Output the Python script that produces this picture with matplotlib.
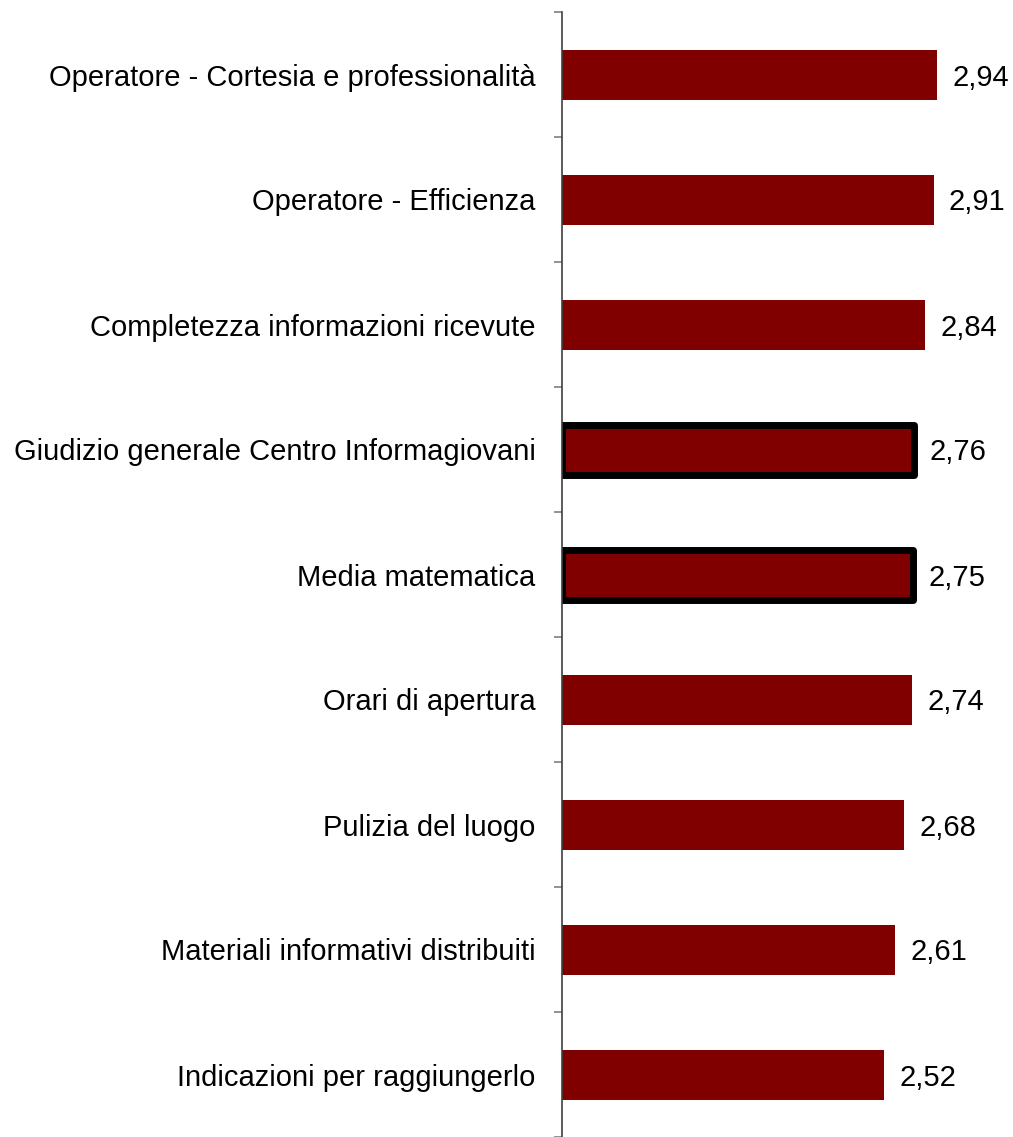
import matplotlib.pyplot as plt

plt.rcParams['font.family'] = ['Liberation Sans', 'DejaVu Sans']

categories = [
    'Operatore - Cortesia e professionalità',
    'Operatore - Efficienza',
    'Completezza informazioni ricevute',
    'Giudizio generale Centro Informagiovani',
    'Media matematica',
    'Orari di apertura',
    'Pulizia del luogo',
    'Materiali informativi distribuiti',
    'Indicazioni per raggiungerlo',
]
values = [2.94, 2.91, 2.84, 2.76, 2.75, 2.74, 2.68, 2.61, 2.52]
highlighted = ['Giudizio generale Centro Informagiovani', 'Media matematica']

fig = plt.figure(figsize=(10.13, 11.37), dpi=100)
ax = fig.add_axes([562 / 1013, 0, 447 / 1013, 1125 / 1137])

pos = list(range(len(categories)))
bars = ax.barh(pos, values, height=0.4, color='#800000', edgecolor='none')

# contorno spesso per le voci di sintesi
for bar, cat in zip(bars, categories):
    if cat in highlighted:
        bar.set_edgecolor('black')
        bar.set_linewidth(5)
        bar.set_joinstyle('round')

for p, v in zip(pos, values):
    ax.text(v + 0.12, p, f'{v:.2f}'.replace('.', ','), va='center_baseline', ha='left', fontsize=21)

ax.set_xlim(0, 3.5)
ax.set_ylim(len(categories) - 0.5, -0.5)

# tick tra una categoria e l'altra, etichette al centro
ax.set_yticks([i - 0.5 for i in range(len(categories) + 1)])
ax.set_yticklabels([])
ax.set_yticks(pos, minor=True)
ax.set_yticklabels(categories, minor=True, fontsize=21, va='center_baseline')
ax.tick_params(axis='y', which='major', length=6, width=1.2, color='#808080', direction='out')
ax.tick_params(axis='y', which='minor', length=0, pad=19)

ax.set_xticks([])
for side in ['top', 'right', 'bottom']:
    ax.spines[side].set_visible(False)
ax.spines['left'].set_color('#404040')
ax.spines['left'].set_linewidth(1.2)

fig.savefig('out.png', dpi=100)
